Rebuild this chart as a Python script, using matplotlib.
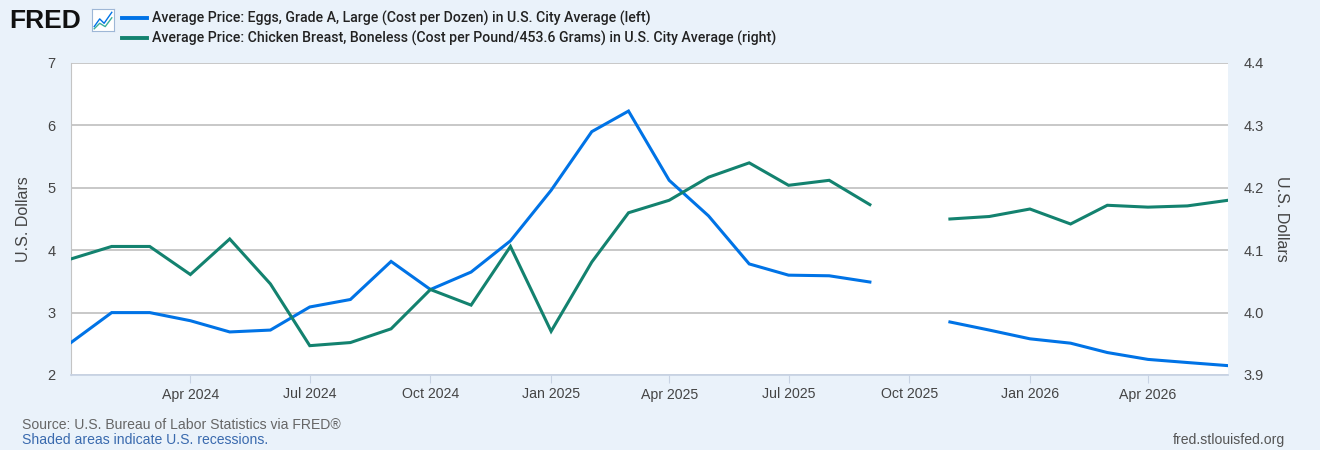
import numpy as np
import pandas as pd
import matplotlib
matplotlib.use("Agg")
import matplotlib.pyplot as plt
import matplotlib.dates as mdates
from matplotlib.lines import Line2D

months = pd.date_range("2024-01-01", "2026-06-01", freq="MS")
eggs = [2.52, 3.00, 3.00, 2.87, 2.69, 2.72, 3.09, 3.21, 3.82, 3.37, 3.65, 4.15,
        4.96, 5.90, 6.23, 5.12, 4.55, 3.78, 3.60, 3.59, 3.49, np.nan, 2.85, 2.72,
        2.58, 2.51, 2.36, 2.25, 2.20, 2.15]
chicken = [4.086, 4.106, 4.106, 4.061, 4.118, 4.046, 3.947, 3.952, 3.974, 4.037, 4.012, 4.106,
           3.970, 4.081, 4.160, 4.180, 4.217, 4.240, 4.204, 4.212, 4.173, np.nan, 4.150, 4.154,
           4.166, 4.142, 4.172, 4.169, 4.171, 4.180]
eggs_label = "Average Price: Eggs, Grade A, Large (Cost per Dozen) in U.S. City Average (left)"
chicken_label = "Average Price: Chicken Breast, Boneless (Cost per Pound/453.6 Grams) in U.S. City Average (right)"
left_ticks = [2, 3, 4, 5, 6, 7]
right_ticks = [3.9, 4.0, 4.1, 4.2, 4.3, 4.4]
xtick_dates = pd.date_range("2024-04-01", "2026-04-01", freq="3MS")

BG = "#EAF2FA"
BLUE = "#0073E6"
GREEN = "#13826F"
TXT = "#444444"
ARIAL = ['Liberation Sans', 'DejaVu Sans']

plt.rcParams['font.family'] = ARIAL

fig = plt.figure(figsize=(13.2, 4.5), dpi=100, facecolor=BG)
ax = fig.add_axes([71/1320, 75/450, (1228-71)/1320, (375-63)/450])
ax.set_facecolor("white")
ax2 = ax.twinx()

ax.plot(months, eggs, color=BLUE, lw=2.2, solid_joinstyle="miter", zorder=3)
ax2.plot(months, chicken, color=GREEN, lw=2.2, solid_joinstyle="miter", zorder=3)

ax.set_xlim(months[0], months[-1])
ax.set_ylim(2, 7)
ax2.set_ylim(3.9, 4.4)
ax.set_yticks(left_ticks)
ax.set_yticklabels([str(t) for t in left_ticks])
ax2.set_yticks(right_ticks)
ax2.set_yticklabels([f"{t:.1f}" for t in right_ticks])
ax.grid(axis="y", color="#C4C4C4", lw=1.3)
ax.set_axisbelow(True)

ax.set_xticks(xtick_dates)
ax.xaxis.set_major_formatter(mdates.DateFormatter("%b %Y"))

for a in (ax, ax2):
    for s in a.spines.values():
        s.set_visible(False)
ax.spines["left"].set_visible(True)
ax.spines["left"].set_color("#C4C4C4")
ax.spines["bottom"].set_visible(True)
ax.spines["bottom"].set_color("#C8D3E4")
ax.spines["bottom"].set_linewidth(1.3)

ax.tick_params(axis="x", colors="#C8D3E4", labelcolor=TXT, labelsize=10.2, length=6, direction="out", pad=3)
ax.tick_params(axis="y", length=0, labelcolor=TXT, labelsize=10.5, pad=11)
ax2.tick_params(axis="y", length=0, labelcolor=TXT, labelsize=10.5, pad=11)
ax.set_ylabel("U.S. Dollars", color=TXT, fontsize=11.5, labelpad=12)
ax2.set_ylabel("U.S. Dollars", color=TXT, fontsize=11.5, rotation=270, labelpad=18)
ax.set_zorder(1)
ax2.set_zorder(2)
ax2.patch.set_visible(False)

# header
fig.text(9/1320, 1 - 21/450, "FRED", fontsize=19, fontweight="heavy", color="#111111",
         va="center", ha="left", family=['Liberation Sans', 'DejaVu Sans'])
iax = fig.add_axes([92/1320, 1 - 31/450, 22/1320, 22/450])
iax.set_xlim(0, 1); iax.set_ylim(0, 1)
iax.set_facecolor("white")
for s in iax.spines.values():
    s.set_color("#9EB7D6"); s.set_linewidth(0.8)
iax.set_xticks([]); iax.set_yticks([])
iax.plot([0.1, 0.35, 0.55, 0.9], [0.2, 0.55, 0.35, 0.85], color=BLUE, lw=1)
iax.plot([0.1, 0.35, 0.6, 0.9], [0.1, 0.35, 0.2, 0.6], color="#3CB09A", lw=1)

for i, (lab, col) in enumerate([(eggs_label, BLUE), (chicken_label, GREEN)]):
    y = 1 - (18 + 20 * i) / 450
    fig.add_artist(Line2D([122/1320, 147/1320], [y, y], color=col, lw=2.8, transform=fig.transFigure))
    fig.text(152/1320, y, lab, fontsize=10.2, fontweight="medium", color="#222222", va="center", ha="left",
             family=['Roboto', 'DejaVu Sans'])

fig.text(22/1320, 1 - 425/450, "Source: U.S. Bureau of Labor Statistics via FRED\u00ae",
         fontsize=10.1, color="#666666", va="center", ha="left")
fig.text(22/1320, 1 - 440/450, "Shaded areas indicate U.S. recessions.",
         fontsize=10.1, color="#3A6AAE", va="center", ha="left")
fig.text(1285/1320, 1 - 440/450, "fred.stlouisfed.org",
         fontsize=10.1, color="#555555", va="center", ha="right")

fig.savefig("out.png", dpi=100, facecolor=BG)
